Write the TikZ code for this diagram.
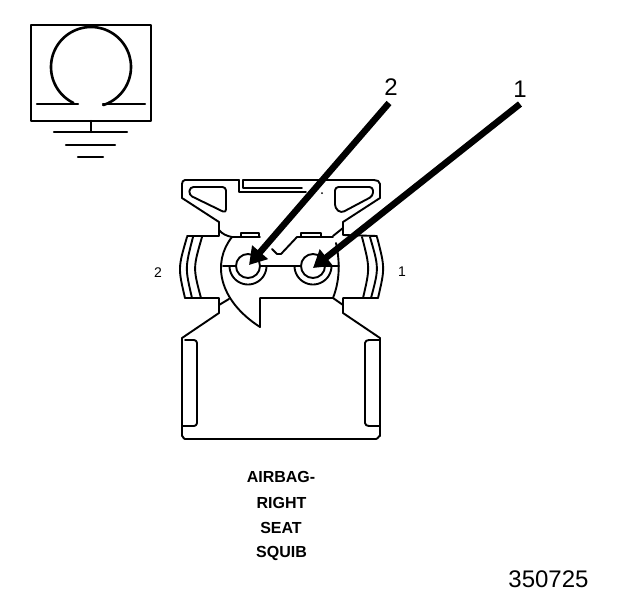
\documentclass[tikz,border=0pt]{standalone}
\usepackage{fontspec}
\setmainfont{Liberation Sans}
\usetikzlibrary{arrows.meta}
\tikzset{
  ink/.style={draw=black,line width=1.9pt,line join=round,line cap=round},
  callout/.style={draw=black,line width=6.5pt,-{Triangle[length=17pt,width=20pt]}},
  tagtext/.style={font=\bfseries\fontsize{16}{18}\selectfont,inner sep=0pt},
  pinlabel/.style={font=\fontsize{14}{16}\selectfont,inner sep=0pt},
  biglabel/.style={font=\fontsize{24}{26}\selectfont,inner sep=0pt},
}
\begin{document}
\begin{tikzpicture}[x=1pt,y=-1pt]
\useasboundingbox (0,0) rectangle (624,600);
% ground symbol
\draw[ink,line width=2.2pt] (31,25) rectangle (151,121);
\draw[ink,line width=2.6pt] plot[domain=116:432,samples=90] ({91+40*cos(\x)},{67+40*sin(\x)});
\draw[ink,line width=2.2pt] (37,104) -- (78,104) (103,104) -- (145,104);
\draw[ink,line width=2.2pt] (91,121) -- (91,132) (54,132) -- (127,132) (66,145) -- (115,145) (78,157) -- (103,157);
% upper housing
\draw[ink] (239,180) -- (185,180) to[out=180,in=90] (182,184) -- (182,198) -- (219,222) -- (219,236) -- (187,236);
\draw[ink] (239,180) -- (239,192) -- (306,192);
\draw[ink] (243,180) -- (243,188) -- (302,188);
\draw[ink] (243,180) -- (374,180) to[out=0,in=90] (380,184) -- (380,198) -- (343,222) -- (343,235) -- (377,236);
\fill (322,193) circle (1pt);
% windows
\draw[ink,rounded corners=3.5pt] (205,187) -- (226,187) -- (226,213) -- (189,195) -- (190,187) -- cycle;
\draw[ink,rounded corners=3.5pt] (350,187) -- (373,187) -- (373,196) -- (341,213) -- (335,208) -- (335,187) -- cycle;
% side ears
\draw[ink] (187,237) .. controls (178,268) .. (185,298);
\draw[ink] (193,237) .. controls (185,268) .. (192,298);
\draw[ink] (202,237) .. controls (193,268) .. (201,298);
\draw[ink] (377,237) .. controls (385,268) .. (378,298);
\draw[ink] (370,237) .. controls (379,268) .. (371,298);
\draw[ink] (362,237) .. controls (370,268) .. (363,298);
% lower junction
\draw[ink] (185,298) -- (219,298) -- (219,313) -- (182,338);
\draw[ink] (378,298) -- (343,298) -- (343,313) -- (380,338);
\draw[ink] (219,305) -- (229,299);
\draw[ink] (333,298) -- (343,305);
% inner shroud
\draw[ink] (219,230) .. controls (222,234) and (227,236) .. (232,237) -- (260,237);
\draw[ink] (241,237) -- (241,233) -- (259,233) -- (259,237);
\draw[ink] (272,249) -- (277,254) -- (281,254) -- (297,237) -- (333,237);
\draw[ink] (301,237) -- (301,233) -- (321,233) -- (321,237);
\draw[ink] (333,236) -- (343,228);
\draw[ink] (232,237) .. controls (212,262) and (218,300) .. (260,327) -- (260,298) -- (333,298);
\draw[ink] (333,298) .. controls (340,280) and (340,262) .. (336,243);
% terminals
\draw[ink] (223,266) -- (339,266);
\draw[ink] plot[domain=0:180,samples=40] ({248+18.5*cos(\x)},{266+18.5*sin(\x)});
\draw[ink] plot[domain=0:180,samples=40] ({313+18.5*cos(\x)},{266+18.5*sin(\x)});
\draw[ink,fill=white] (248,266) circle[radius=12pt];
\draw[ink,fill=white] (313,266) circle[radius=12pt];
% lower body
\draw[ink] (182,338) -- (182,436) to[out=90,in=180] (185,439) -- (376,439) to[out=0,in=90] (380,436) -- (380,338);
\draw[ink] (185,340) -- (194,340) to[out=0,in=90] (197,343) -- (197,423) to[out=270,in=0] (194,426) -- (182,426);
\draw[ink] (380,340) -- (369,340) to[out=180,in=90] (365,343) -- (365,423) to[out=270,in=180] (369,426) -- (380,426);
% callouts
\coordinate (tailb) at (389,103);
\coordinate (tipb) at (249,265);
\coordinate (taila) at (520,104);
\coordinate (tipa) at (313,268);
\draw[callout] (tailb) -- (tipb);
\draw[callout] (taila) -- (tipa);
% labels
\node[biglabel] (labb) at (391,87.5) {2};
\node[biglabel] (laba) at (520,89.5) {1};
\node[pinlabel] (pinb) at (158,273) {2};
\node[pinlabel] (pina) at (402,272) {1};
\node[tagtext] (t1) at (281,476.5) {AIRBAG-};
\node[tagtext] (t2) at (281.5,503) {RIGHT};
\node[tagtext] (t3) at (281,528) {SEAT};
\node[tagtext] (t4) at (281.5,553) {SQUIB};
\node[font=\fontsize{24}{26}\selectfont,inner sep=0pt] (num) at (548.5,579.5) {350725};
\end{tikzpicture}
\end{document}
